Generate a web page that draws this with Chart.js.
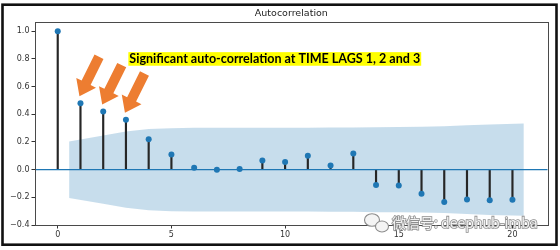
<!DOCTYPE html>
<html><head><meta charset="utf-8">
<script src="https://cdn.jsdelivr.net/npm/chart.js@4.4.1/dist/chart.umd.min.js"></script>
<style>html,body{margin:0;padding:0;background:#fff;}canvas{display:block;}</style>
</head><body>
<canvas id="c" width="560" height="250"></canvas>
<script>
const lags = [0,1,2,3,4,5,6,7,8,9,10,11,12,13,14,15,16,17,18,19,20];
const acfValues = [1.0,0.48,0.42,0.36,0.22,0.11,0.014,-0.001,0.004,0.066,0.055,0.10,0.03,0.117,-0.111,-0.114,-0.174,-0.234,-0.215,-0.222,-0.217];
const bandLags = [0.5,2,3,4,5,6,7,8,9,10,11,12,13,14,15,16,17,18,19,20.5];
const bandHalfWidth = [0.204,0.247,0.275,0.294,0.300,0.302,0.302,0.302,0.302,0.303,0.303,0.305,0.305,0.307,0.308,0.310,0.314,0.321,0.327,0.333];
const xTickValues = [0,5,10,15,20];
const yTickValues = [-0.4,-0.2,0.0,0.2,0.4,0.6,0.8,1.0];
const titleText = 'Autocorrelation';
const noteText = 'Significant auto-correlation at TIME LAGS 1, 2 and 3';
const highlightedLags = [1,2,3];
const watermarkText = '微信号: deephub-imba';

const stemData = lags.map((l,i)=>({x:l, y:acfValues[i]}));
const bandUpper = bandLags.map((l,i)=>({x:l, y:bandHalfWidth[i]}));
const bandLower = bandLags.map((l,i)=>({x:l, y:-bandHalfWidth[i]}));
const X_MIN = -1, X_MAX = 21.55, Y_MIN = -0.4, Y_MAX = 1.067;

function drawArrow(ctx, tx, ty){
  const dx = 0.444, dy = -0.896; // unit vector from tip to tail
  const px = 0.896, py = 0.444;  // perpendicular
  const L = 44, hl = 15, hw = 22, sw = 10;
  const bx = tx + dx*hl, by = ty + dy*hl;
  const ex = tx + dx*L, ey = ty + dy*L;
  ctx.beginPath();
  ctx.moveTo(tx, ty);
  ctx.lineTo(bx + px*hw/2, by + py*hw/2);
  ctx.lineTo(bx + px*sw/2, by + py*sw/2);
  ctx.lineTo(ex + px*sw/2, ey + py*sw/2);
  ctx.lineTo(ex - px*sw/2, ey - py*sw/2);
  ctx.lineTo(bx - px*sw/2, by - py*sw/2);
  ctx.lineTo(bx - px*hw/2, by - py*hw/2);
  ctx.closePath();
  ctx.fillStyle = '#ED7D31';
  ctx.fill();
}

const decor = {
  id: 'decor',
  beforeDraw(chart){
    const ctx = chart.ctx;
    ctx.save(); ctx.fillStyle = '#fff'; ctx.fillRect(0,0,chart.width,chart.height); ctx.restore();
  },
  afterDraw(chart){
    const {ctx, chartArea:a, scales:{x, y}} = chart;
    ctx.save();
    // axes spines
    ctx.strokeStyle = '#4a4a4a'; ctx.lineWidth = 1;
    ctx.strokeRect(Math.round(a.left)+0.5, Math.round(a.top)+0.5, Math.round(a.right-a.left), Math.round(a.bottom-a.top));
    // title
    ctx.fillStyle = '#222';
    ctx.font = '9.5px "DejaVu Sans"';
    ctx.textAlign = 'center'; ctx.textBaseline = 'middle';
    ctx.fillText(titleText, (a.left+a.right)/2, 14);
    // annotation text with highlight
    const nx = x.getPixelForValue(3.15), ny = y.getPixelForValue(0.80);
    ctx.font = 'bold 100px Lato';
    const w100 = ctx.measureText(noteText).width;
    const fs = 100*291/w100;
    ctx.font = 'bold ' + fs.toFixed(2) + 'px Lato';
    const tw = ctx.measureText(noteText).width;
    ctx.fillStyle = '#FFFF00';
    ctx.fillRect(nx-1, ny-6.8, tw+2, 13.6);
    ctx.fillStyle = '#000';
    ctx.textAlign = 'left'; ctx.textBaseline = 'middle';
    ctx.fillText(noteText, nx, ny+0.5);
    // arrows pointing at the highlighted lags
    highlightedLags.forEach(l=>{
      drawArrow(ctx, x.getPixelForValue(l)-1, y.getPixelForValue(acfValues[l])-7);
    });
    // watermark icon
    ctx.strokeStyle = '#8c8c8c'; ctx.lineWidth = 1.1;
    ctx.fillStyle = '#f4f4f4';
    ctx.beginPath(); ctx.ellipse(372, 220, 7.5, 6.3, 0, 0, Math.PI*2); ctx.fill(); ctx.stroke();
    ctx.beginPath(); ctx.ellipse(382, 226.5, 6.5, 5.5, 0, 0, Math.PI*2); ctx.fill(); ctx.stroke();
    // watermark text
    ctx.font = '14px "Noto Sans CJK SC"';
    ctx.textAlign = 'left'; ctx.textBaseline = 'middle';
    ctx.lineWidth = 1.6; ctx.strokeStyle = '#8f8f8f';
    ctx.strokeText(watermarkText, 392, 223);
    ctx.fillStyle = '#f2f2f2';
    ctx.fillText(watermarkText, 392, 223);
    // outer frame
    ctx.strokeStyle = '#111'; ctx.lineWidth = 2.6;
    ctx.strokeRect(2.5, 4.7, 554, 240);
    ctx.restore();
  }
};

new Chart(document.getElementById('c'), {
  type: 'bar',
  data: {
    datasets: [
      {type:'scatter', data: stemData, pointRadius: 3, pointHoverRadius: 3, pointBackgroundColor:'#1f77b4', pointBorderWidth:0, order: 1},
      {type:'line', data: [{x:X_MIN,y:0},{x:X_MAX,y:0}], borderColor:'#1f77b4', borderWidth:1.2, pointRadius:0, fill:false, order: 2},
      {type:'bar', data: stemData, backgroundColor:'#262626', barThickness:1.5, grouped:false, order: 3},
      {type:'line', data: bandUpper, borderWidth:0, pointRadius:0, fill:'+1', backgroundColor:'rgba(31,119,180,0.25)', tension:0, order: 5},
      {type:'line', data: bandLower, borderWidth:0, pointRadius:0, fill:false, tension:0, order: 6}
    ]
  },
  options: {
    responsive: false,
    animation: false,
    devicePixelRatio: 1,
    layout: {padding: {top: 22, right: 12.3, left: 0, bottom: 0}},
    plugins: {legend:{display:false}, tooltip:{enabled:false}, title:{display:false}},
    scales: {
      x: {
        type: 'linear', min: X_MIN, max: X_MAX, offset: false,
        afterBuildTicks: s => { s.ticks = xTickValues.map(v=>({value:v})); },
        afterFit: s => { s.height = 25; },
        grid: {display:true, offset:false, drawOnChartArea:false, drawTicks:true, tickLength:3.5, tickColor:'#333', tickWidth:1},
        border: {display:false},
        ticks: {font:{family:'DejaVu Sans', size:8}, color:'#333', padding:1.5, maxRotation:0, autoSkip:false, callback: v => String(v)}
      },
      y: {
        type: 'linear', min: Y_MIN, max: Y_MAX,
        afterBuildTicks: s => { s.ticks = yTickValues.map(v=>({value:v})); },
        afterFit: s => { s.width = 35; },
        grid: {display:true, drawOnChartArea:false, drawTicks:true, tickLength:3.5, tickColor:'#333', tickWidth:1},
        border: {display:false},
        ticks: {font:{family:'DejaVu Sans', size:8}, color:'#333', padding:2, autoSkip:false, callback: v => v.toFixed(1).replace('-', '\u2212')}
      }
    }
  },
  plugins: [decor]
});
</script>
</body></html>
